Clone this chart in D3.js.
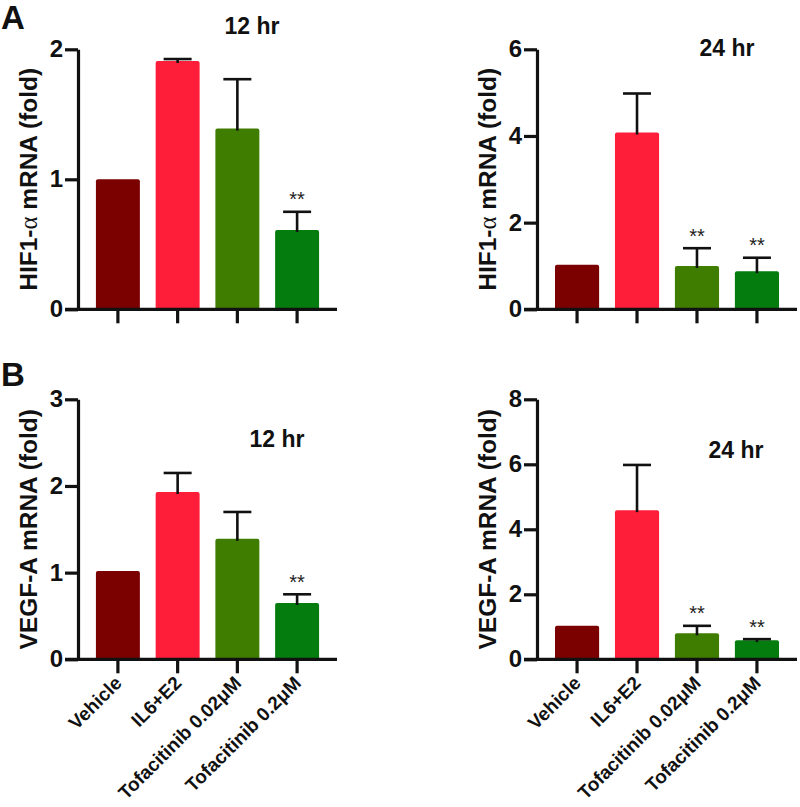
<!DOCTYPE html>
<html><head><meta charset="utf-8">
<script src="https://cdn.jsdelivr.net/npm/d3@7"></script>
<style>body{margin:0;background:#fff}svg{display:block}</style>
</head><body>
<svg id="chart" width="800" height="807"></svg>
<script>
// ---- data ----
const categories = ["Vehicle", "IL6+E2", "Tofacitinib 0.02\u03BCM", "Tofacitinib 0.2\u03BCM"];
const hif12Mean = [1.0, 1.91, 1.39, 0.61];
const hif12Err  = [0, 0.015, 0.38, 0.14];
const hif12Sig  = ["", "", "", "**"];
const hif24Mean = [1.03, 4.08, 1.0, 0.88];
const hif24Err  = [0, 0.9, 0.41, 0.31];
const hif24Sig  = ["", "", "**", "**"];
const vegf12Mean = [1.02, 1.93, 1.39, 0.65];
const vegf12Err  = [0, 0.22, 0.31, 0.10];
const vegf12Sig  = ["", "", "", "**"];
const vegf24Mean = [1.03, 4.59, 0.80, 0.59];
const vegf24Err  = [0, 1.39, 0.23, 0.03];
const vegf24Sig  = ["", "", "**", "**"];
const hif12Ticks = [0, 1, 2];
const hif24Ticks = [0, 2, 4, 6];
const vegf12Ticks = [0, 1, 2, 3];
const vegf24Ticks = [0, 2, 4, 6, 8];

// ---- style ----
const barColors = ["#7b0000", "#ff1e3a", "#3f7d00", "#057d0e"];
const FONT = "'Liberation Sans', Arial, Helvetica, sans-serif";

const svg = d3.select("#chart");

const panels = [
  {ax: 78, xEnd: 337, top: 49.3, bottom: 309.3, ticks: hif12Ticks, mean: hif12Mean, err: hif12Err, sig: hif12Sig,
   title: "12 hr", tx: 252, ty: 34, gene: "HIF1", xlabels: false},
  {ax: 537, xEnd: 797, top: 49.3, bottom: 309.3, ticks: hif24Ticks, mean: hif24Mean, err: hif24Err, sig: hif24Sig,
   title: "24 hr", tx: 727, ty: 56, gene: "HIF1", xlabels: false},
  {ax: 78, xEnd: 337, top: 399.3, bottom: 659.3, ticks: vegf12Ticks, mean: vegf12Mean, err: vegf12Err, sig: vegf12Sig,
   title: "12 hr", tx: 277, ty: 447, gene: "VEGF", xlabels: true},
  {ax: 537, xEnd: 797, top: 399.3, bottom: 659.3, ticks: vegf24Ticks, mean: vegf24Mean, err: vegf24Err, sig: vegf24Sig,
   title: "24 hr", tx: 736, ty: 458, gene: "VEGF", xlabels: true}
];

panels.forEach(p => {
  const g = svg.append("g");
  const y = d3.scaleLinear().domain([0, d3.max(p.ticks)]).range([p.bottom, p.top]);
  const x = d3.scaleBand().domain(categories).range([p.ax, p.xEnd]).paddingInner(0.264).paddingOuter(0.3);
  const bw = x.bandwidth();

  // bars
  g.selectAll("rect.bar").data(categories).join("rect")
    .attr("x", d => x(d)).attr("width", bw)
    .attr("y", (d, i) => y(p.mean[i])).attr("height", (d, i) => y(0) - y(p.mean[i]))
    .attr("rx", 2).attr("fill", (d, i) => barColors[i]);

  // error bars (upper only)
  const capW = 28;
  categories.forEach((c, i) => {
    if (p.err[i] <= 0) return;
    const cx = x(c) + bw / 2;
    g.append("line").attr("x1", cx).attr("x2", cx)
      .attr("y1", y(p.mean[i]) + 2).attr("y2", y(p.mean[i] + p.err[i]))
      .attr("stroke", "#111").attr("stroke-width", 2.6);
    g.append("line").attr("x1", cx - capW / 2).attr("x2", cx + capW / 2)
      .attr("y1", y(p.mean[i] + p.err[i])).attr("y2", y(p.mean[i] + p.err[i]))
      .attr("stroke", "#111").attr("stroke-width", 2.6);
    if (p.sig[i]) {
      g.append("text").attr("x", cx).attr("y", y(p.mean[i] + p.err[i]) - 5.5)
        .attr("text-anchor", "middle").attr("font-family", FONT).attr("font-size", 20)
        .attr("fill", "#222").text(p.sig[i]);
    }
  });

  // y axis
  const yAxis = d3.axisLeft(y).tickValues(p.ticks).tickFormat(d3.format("d"))
    .tickSize(13).tickSizeOuter(0).tickPadding(2);
  const ya = g.append("g").attr("transform", `translate(${p.ax},0)`).call(yAxis);
  ya.select(".domain").attr("stroke", "#111").attr("stroke-width", 3.2);
  ya.selectAll(".tick line").attr("stroke", "#111").attr("stroke-width", 3.2);
  ya.selectAll(".tick text").attr("font-family", FONT).attr("font-weight", "bold")
    .attr("font-size", 24).attr("fill", "#111");

  // x axis
  const xAxis = d3.axisBottom(x).tickSize(14).tickSizeOuter(0).tickFormat(p.xlabels ? (d => d) : "");
  const xa = g.append("g").attr("transform", `translate(0,${p.bottom})`).call(xAxis);
  xa.select(".domain").remove();
  xa.append("line").attr("x1", p.ax - 13).attr("x2", p.xEnd).attr("y1", 0).attr("y2", 0)
    .attr("stroke", "#111").attr("stroke-width", 3.2);
  xa.selectAll(".tick line").attr("stroke", "#111").attr("stroke-width", 3.2);
  xa.selectAll(".tick text")
    .attr("font-family", FONT).attr("font-weight", "bold").attr("font-size", 19).attr("fill", "#111")
    .attr("text-anchor", "end").attr("dy", null).attr("y", null)
    .attr("transform", "translate(5,25) rotate(-45)");

  // y label
  const lx = p.ax - 41;
  const ly = (p.top + p.bottom) / 2;
  const t = g.append("text").attr("transform", `translate(${lx},${ly}) rotate(-90)`)
    .attr("text-anchor", "middle").attr("font-family", FONT).attr("font-weight", "bold")
    .attr("font-size", 24.5).attr("fill", "#111");
  if (p.gene === "HIF1") {
    t.append("tspan").text("HIF1-");
    t.append("tspan").attr("font-family", "'Liberation Serif', 'DejaVu Serif', serif").attr("font-weight", "normal").text("\u03B1");
    t.append("tspan").text(" mRNA (fold)");
  } else {
    t.text("VEGF-A mRNA (fold)");
  }

  // title
  g.append("text").attr("x", p.tx).attr("y", p.ty).attr("text-anchor", "middle")
    .attr("font-family", FONT).attr("font-weight", "bold").attr("font-size", 23).attr("fill", "#111")
    .text(p.title);
});

// panel letters
svg.append("text").attr("x", 1).attr("y", 29).attr("font-family", FONT).attr("font-weight", "bold")
  .attr("font-size", 33).attr("fill", "#111").text("A");
svg.append("text").attr("x", 1).attr("y", 386).attr("font-family", FONT).attr("font-weight", "bold")
  .attr("font-size", 33).attr("fill", "#111").text("B");
</script>
</body></html>
